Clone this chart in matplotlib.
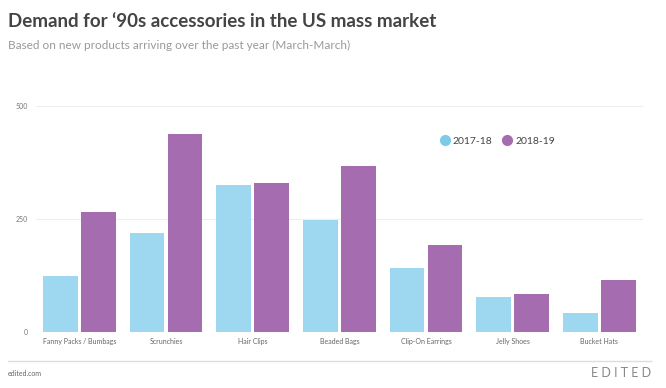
import matplotlib

matplotlib.use("Agg")
import matplotlib.pyplot as plt
import numpy as np
from matplotlib.lines import Line2D

categories = ["Fanny Packs / Bumbags", "Scrunchies", "Hair Clips", "Beaded Bags",
              "Clip-On Earrings", "Jelly Shoes", "Bucket Hats"]
series_names = ["2017-18", "2018-19"]
values_1718 = [124, 218, 324, 248, 142, 77, 43]
values_1819 = [266, 437, 330, 366, 193, 85, 115]
yticks = [0, 250, 500]

BLUE = "#9dd8f0"
PURPLE = "#a56db0"

plt.rcParams["font.family"] = ["Lato", "DejaVu Sans"]

fig = plt.figure(figsize=(6.66, 3.88), dpi=100)
ax = fig.add_axes([0.054, 0.144, 0.911, 0.584])

x = np.arange(len(categories))
w = 0.40
ax.bar(x - 0.22, values_1718, width=w, color=BLUE, zorder=2)
ax.bar(x + 0.22, values_1819, width=w, color=PURPLE, zorder=2)

ax.set_xlim(-0.5, len(categories) - 0.5)
ax.set_ylim(0, 500)
ax.set_yticks(yticks)
ax.set_yticklabels([str(v) for v in yticks], fontsize=5, color="#777777")
ax.set_xticks(x)
ax.set_xticklabels(categories, fontsize=5, color="#666666")
ax.tick_params(length=0, pad=4)
ax.tick_params(axis="y", pad=6)
for s in ax.spines.values():
    s.set_visible(False)
ax.grid(axis="y", color="#eeeeee", linewidth=0.8, zorder=0)

handles = [Line2D([], [], marker="o", linestyle="", color=c, markersize=7)
           for c in ["#7ccbea", PURPLE]]
ax.legend(handles, series_names, loc="upper left", bbox_to_anchor=(0.666, 0.862),
          ncol=2, frameon=False, fontsize=7.5, handlelength=0.9, handletextpad=0.3,
          columnspacing=1.0, labelcolor="#444444", borderaxespad=0, borderpad=0)

fig.text(0.012, 0.945, "Demand for \u201890s accessories in the US mass market",
         fontsize=13.5, fontweight="bold", color="#444444", va="center")
fig.text(0.012, 0.882, "Based on new products arriving over the past year (March-March)",
         fontsize=8.5, color="#999999", va="center")

fig.add_artist(Line2D([0.012, 0.978], [0.07, 0.07], color="#dddddd",
                      linewidth=1, transform=fig.transFigure))
fig.text(0.012, 0.038, "edited.com", fontsize=5, color="#666666", va="center")
fig.text(0.978, 0.038, "E D I T E D", fontsize=9, color="#888888",
         va="center", ha="right")

fig.savefig("out.png", dpi=100)
